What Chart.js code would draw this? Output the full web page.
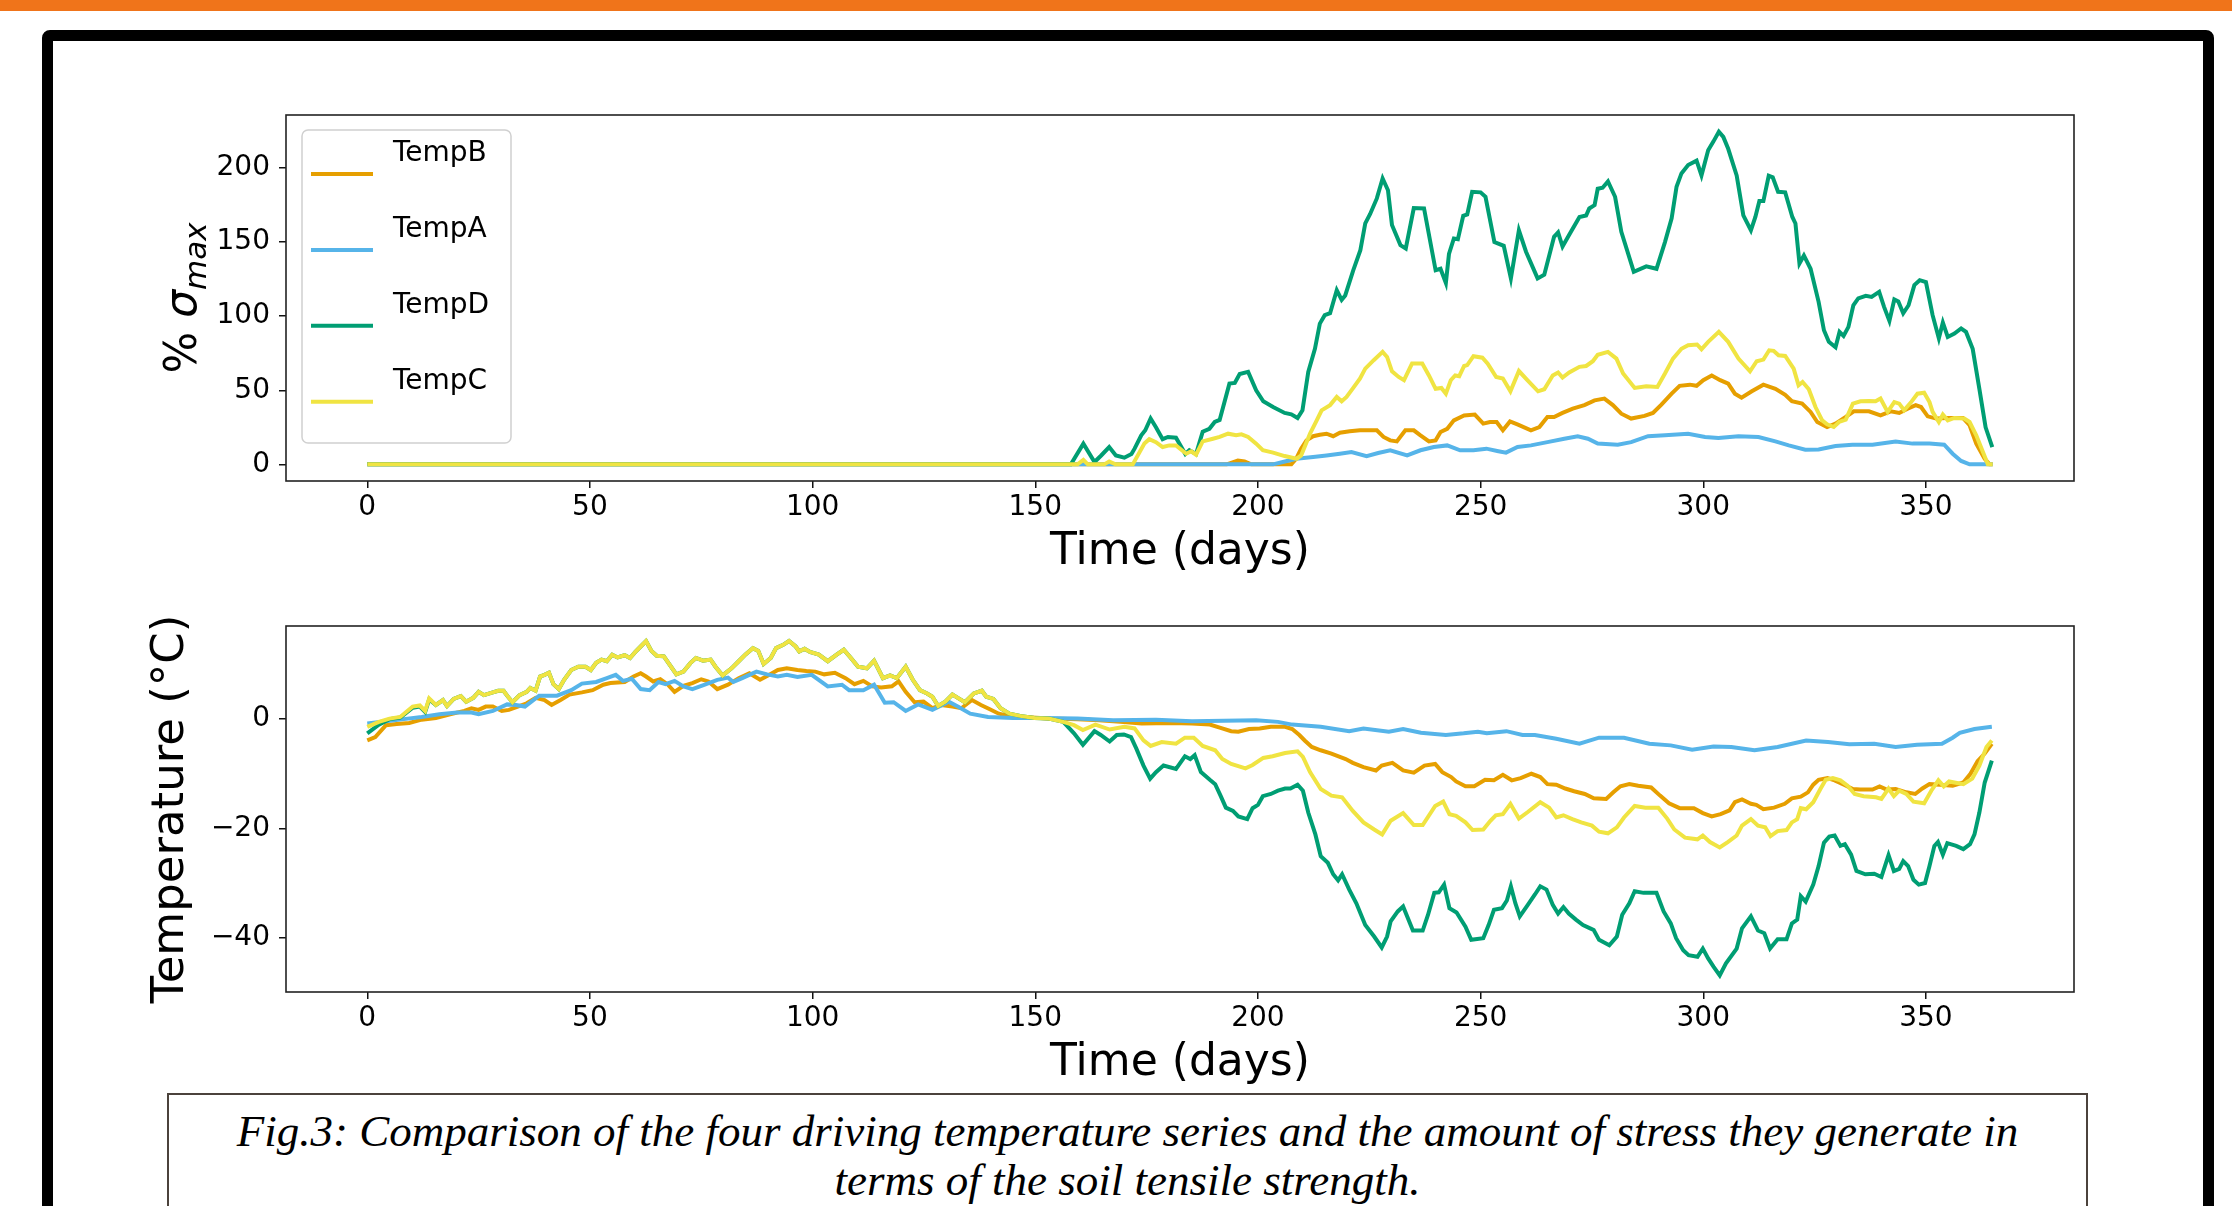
<!DOCTYPE html>
<html lang="en">
<head>
<meta charset="UTF-8">
<title>Fig.3 driving temperature series</title>
<script src="https://cdn.jsdelivr.net/npm/chart.js"></script>
<style>
    body {
        margin: 0;
        width: 2232px;
        height: 1206px;
        overflow: hidden;
        position: relative;
        background: #fff;
        font-family: "DejaVu Sans", sans-serif;
    }
    .topbar { position: absolute; left: 0; top: 0; width: 2232px; height: 11px; background: #f0741a; }
    .frame {
        position: absolute; left: 42px; top: 30px;
        width: 2150px; height: 1300px;
        border: 11px solid #000; border-radius: 8px;
    }
    #stressChart { position: absolute; left: 100px; top: 89px; }
    #tempChart { position: absolute; left: 100px; top: 600px; }
    .caption {
        position: absolute; left: 167px; top: 1093px;
        width: 1921px; height: 200px; box-sizing: border-box;
        border: 2px solid #4b423c; background: #fff;
        padding-top: 12px;
        font-family: "Liberation Serif", serif; font-style: italic;
        font-size: 45px; line-height: 49px; text-align: center; color: #000;
        white-space: nowrap;
    }
</style>
</head>
<body>
<div class="topbar"></div>
<div class="frame"></div>
<canvas id="stressChart" width="2000" height="491"></canvas>
<canvas id="tempChart" width="2000" height="491"></canvas>
<div class="caption">Fig.3: Comparison of the four driving temperature series and the amount of stress they generate in<br>terms of the soil tensile strength.</div>

<script>
// series order as in the legend
const seriesNames = ['TempB', 'TempA', 'TempD', 'TempC'];
const seriesColors = ['#E69F00', '#56B4E9', '#009E73', '#F0E442'];
const drawOrder = [3, 2, 1, 0];   // TempC on top

const xTicks = [0, 50, 100, 150, 200, 250, 300, 350];
const stressTicks = [0, 50, 100, 150, 200];
const tempTicks = [-40, -20, 0];

// % sigma_max, [day, value]
const stressB = [[0,0],[193,0],[195.5,2.5],[197,2],[198.5,0],[207.5,0],[208.6,3.8],[209.7,10.6],[210.9,16.2],[212.4,19],[213.9,20],[215.4,20.7],[216.9,19],[218.4,21.4],[220.6,22.3],[222.9,23],[226.7,23],[228.2,18.5],[229.7,16.2],[231.2,15.5],[233.1,23],[235,23],[236.5,19.6],[238.4,15.5],[239.9,16.2],[241,21.8],[242.5,24],[244,29.7],[246.3,33],[248.7,33.6],[250.6,27.5],[252.1,28.6],[253.6,28.6],[255,23],[256.6,29],[258.4,26.8],[261.3,23],[263.2,25.2],[265,32],[266.5,32],[268.4,34.7],[270.7,37.6],[273.3,40],[275.6,43.2],[277.8,44.4],[279.7,40],[281.6,34.2],[283.8,30.9],[286.8,32.7],[288.7,34.7],[290.6,40.3],[292.9,47.7],[294.7,53],[297,53.8],[298.5,53],[300,56.8],[301.9,60],[303.8,56.8],[305.6,54.5],[307.1,47.7],[308.6,45],[310.9,49.3],[313.5,53.8],[316.2,51],[318.4,47],[319.9,42.6],[322.2,41],[324.1,35.4],[325.6,28.6],[327.8,25.2],[329.7,27.5],[332,32],[333.8,35.8],[337.2,35.8],[339.8,33],[342.1,35.8],[344,34.7],[345.9,37.6],[347.7,40],[348.9,38.7],[350.4,32.4],[352.3,30.9],[354.9,31.3],[358.3,31.3],[359.8,26.4],[361.3,14],[363.2,3.8],[364.3,0],[365,0]];
const stressA = [[0,0],[203.4,0],[205.6,1.6],[208.6,3.8],[212.4,5],[215.4,6],[218.4,7.2],[221,8.3],[224.4,5.6],[227,7.7],[229.7,9.5],[233.5,6],[236.5,9.5],[239.5,11.7],[242.5,12.8],[245.4,9.5],[248.4,9.5],[251.3,10.6],[254,8.9],[255.7,7.9],[258.3,11.7],[261.3,12.8],[265,15],[268.8,17.3],[271.8,19],[274.1,17.3],[276.3,14],[280.8,13.3],[283.8,15],[287.6,19],[291.4,19.6],[296.6,20.7],[300.4,18.5],[303.4,17.8],[307.9,19],[312.4,18.5],[316.2,15.5],[319.2,12.8],[322.9,9.9],[325.9,10.1],[329.7,12.4],[333.5,13.3],[338,13.3],[343.2,15.5],[347,14],[350.8,14],[354.1,13.3],[356,7.2],[357.9,2.3],[359.8,0],[365,0]];
const stressD = [[0,0],[158,0],[160.8,14],[163.3,1.6],[164.8,6],[166.6,11.7],[168.1,6],[170,4.5],[171.6,7],[172.3,10.6],[173.8,19.6],[174.7,23],[175.9,31],[177.1,25],[178.6,17],[179.8,18.5],[181.6,18],[183.7,7],[184.6,9.5],[186.1,7],[187.6,22],[189.1,24],[190.3,28.6],[191.4,30],[193.6,54.5],[194.8,55],[195.9,61],[197.8,62.4],[199.6,50],[201.2,42.6],[203.4,38.7],[206,34.7],[207.5,33.8],[208.9,31.3],[210,36.5],[211.3,62.4],[212.8,78],[213.9,95],[215,100.7],[216.2,102],[217.7,117.6],[218.8,111],[219.6,114],[221.4,131],[223,144.6],[224.1,162.6],[225.2,169],[226.7,179.5],[228,193],[229.2,185],[230.1,161.5],[232,148],[233.2,145.7],[235,173],[237.3,172.7],[239.9,131],[241,132],[242.2,122.5],[242.9,142],[244,152.5],[244.9,152],[246.1,167.8],[247,168.7],[248.1,184],[250,183.6],[251.1,180.6],[253.1,150],[255.2,147.5],[256.8,125.5],[258.6,158],[260.2,143.5],[262.8,125.5],[264.3,128],[266.5,153.6],[267.4,156.5],[268.4,147],[269.9,155],[272.2,167],[273.7,168],[274.4,172.7],[275.6,175],[276.3,186],[277.4,186.7],[278.6,191],[280.2,180.6],[281.6,157],[284.4,130],[287.2,133.6],[289.5,132],[291.4,150],[292.9,166],[294,187.4],[295.1,196.4],[296.6,202],[298.5,205],[299.6,195],[301.1,212],[302.3,218],[303.5,224.5],[304.5,221],[305.6,213],[307.5,195],[309,168],[310.7,158],[311.7,167],[312.6,177.7],[313.5,177.7],[314.7,194.8],[315.6,193.7],[316.8,184],[318.4,183.6],[320,167],[320.7,162.6],[321.6,135.6],[322.6,141],[324.1,132],[325.9,109.7],[327.1,90.5],[328.2,82.7],[329.7,79],[330.6,89.4],[331.5,86.7],[332.6,92.8],[333.7,107.4],[334.8,112],[336.5,113.7],[337.8,113],[339.5,116.4],[340.6,106.3],[341.8,96.8],[342.9,111.3],[343.8,110],[344.9,102],[346.1,107.4],[347.4,121],[348.6,124.3],[350,123],[351.5,100.7],[352.9,85],[353.8,95.7],[354.9,86],[356.4,88.3],[357.9,91.7],[359,89.4],[360.5,78],[362,51],[363.4,25],[364.9,11.7]];
const stressC = [[0,0],[159.5,0],[160.8,3],[161.8,0],[165.5,0],[166.6,2],[168,0],[171.9,0],[174.5,14],[175.6,17],[177.1,15],[178.6,11.7],[180.1,12.8],[181.6,12.8],[183.9,7.2],[185,8.8],[186.1,6.5],[187.6,15.5],[189.9,17.3],[191.4,18.5],[193.3,20.7],[195.1,19.6],[196.3,20.3],[197.8,18.5],[199.6,14],[201.1,9.5],[203.4,7.9],[206,5.6],[208.7,3.8],[209.7,6],[211.7,20.7],[213.2,29.7],[214.3,36.5],[216.2,40],[217.7,45.5],[218.8,42.6],[219.9,45.5],[221.4,51.6],[222.9,57.9],[224.1,64.6],[226,70.3],[228,75.9],[229,72.5],[230.1,62.8],[231.6,59],[232.8,56.8],[234.6,68],[236.9,68],[238.4,60],[239.9,51],[241.2,51.6],[242.2,47.7],[243.3,56.8],[244.3,60],[245.2,59.5],[246.3,66.4],[247,67],[248.4,73],[250.4,72],[251.6,68],[253.5,59],[255,57.9],[256.7,49.3],[258.6,63],[260.5,56.8],[262.9,49.3],[264.3,50.7],[266.2,60],[267.4,62],[268.4,58.6],[269.9,62],[272.2,65.8],[273.7,66.4],[275.2,69.6],[276.3,74],[278.6,75.9],[280.5,71.4],[282,61.3],[284.6,51.6],[287.2,52.7],[289.7,52.3],[291.4,61.3],[293.2,71.4],[295.1,78],[296.6,80.4],[298.6,80.9],[299.6,77.7],[301.1,82.7],[303.5,89.4],[305.6,82.7],[307.9,71.4],[310.5,62.8],[312,69.6],[313.5,70.7],[314.8,77],[315.8,76.6],[316.9,73.6],[318.4,73.2],[320.3,64.6],[321.4,53.4],[322.3,55.6],[323.7,50.7],[325.2,38.7],[326.7,29.7],[327.8,27],[329.3,25.2],[330.5,28.6],[332,30.2],[333.6,41],[335.3,42.6],[337.2,42.8],[338.7,42.6],[339.8,44.4],[341.4,35.4],[342.9,42],[344,41],[345.1,36.5],[346.6,41.7],[348.1,47.7],[349.6,48.4],[350.8,42],[351.5,35.4],[352.9,28.6],[353.8,33.6],[354.9,29.7],[356.4,31.3],[358.6,30.9],[359.8,28.6],[361.3,19.6],[362.8,8.3],[363.9,0],[365,0]];

// temperature (deg C), [day, value]
const tempB = [[0,-3.9],[1.8,-3.3],[4.2,-1.1],[6.6,-0.9],[9.4,-0.7],[12.2,-0.1],[15.4,0.2],[18.6,0.9],[21.8,1.5],[23.4,2],[25,1.7],[26.6,2.3],[28.2,2.3],[30.2,1.5],[31.8,1.7],[33.8,2.3],[35.8,2.9],[37.8,3.9],[39.8,3.5],[41.4,2.6],[43.4,3.5],[45.4,4.5],[48.2,4.9],[50.6,5.3],[53,6.3],[54.6,6.6],[57.8,6.8],[59.8,7.8],[61.4,8.4],[62.6,7.8],[64.2,6.9],[65.8,7.3],[67.4,6.4],[69,5],[71,6.1],[73,6.6],[75,7.3],[76.6,6.9],[78.6,5.5],[81,6.3],[83.4,7.5],[85.8,8.4],[88.2,7.2],[90.2,8.1],[92.2,9],[94.2,9.3],[96.6,9],[98.6,8.8],[100.6,8.7],[102.6,8.2],[105,8.5],[107.4,7.5],[109.4,6.4],[111.4,7],[113.4,6],[115.4,5.8],[117.8,6],[119.3,6.9],[120.9,5],[122.9,3.1],[124.9,3.2],[126.9,2],[128.9,2.6],[131.4,2.3],[133.4,2],[135.8,3.5],[137.8,2.6],[139.8,1.8],[141.8,1],[144.2,0.6],[147.4,0.4],[153,0.1],[159.5,0],[164.3,-0.2],[169.1,-0.5],[173.9,-0.8],[180.4,-0.7],[185.2,-0.8],[189.2,-1],[191.6,-1.6],[194,-2.2],[195.6,-2.3],[198,-1.8],[200.4,-1.7],[202.9,-1.4],[206.1,-1.4],[207.7,-1.8],[209.3,-2.9],[210.5,-3.9],[212.1,-5.1],[214.1,-5.7],[216.5,-6.3],[218.1,-6.8],[219.7,-7.3],[221.3,-8],[223.7,-8.8],[226.5,-9.4],[227.8,-8.5],[230.2,-8],[232.6,-9.4],[235,-9.8],[237.4,-8.5],[239.8,-8.2],[241.4,-9.7],[243.4,-10.6],[244.5,-11.4],[246.6,-12.3],[248.6,-12.3],[251,-11.1],[253,-11.2],[255,-10.2],[257,-11.2],[259,-10.8],[261.4,-10],[263.4,-10.6],[265,-11.9],[267,-12],[269,-12.7],[271,-13.2],[273.4,-13.7],[275.4,-14.5],[278.2,-14.6],[279.8,-13.4],[281.4,-12.3],[283.4,-11.9],[285.4,-12.2],[288.3,-12.5],[290.3,-14],[292.3,-15.4],[294.7,-16.3],[297.9,-16.3],[299.9,-17.2],[301.9,-17.8],[303.9,-17.4],[305.9,-16.7],[307.1,-15.2],[308.7,-14.7],[310.7,-15.5],[311.9,-15.7],[313.5,-16.5],[315.9,-16.2],[318.3,-15.5],[319.9,-14.5],[321.9,-14.2],[323.5,-13.4],[324.7,-12],[325.9,-11.1],[327.9,-10.8],[329.5,-11.2],[331.6,-12],[333.6,-12.8],[335.2,-12.9],[338,-12.9],[339.6,-12.3],[341.2,-12.9],[343.2,-12.8],[345.6,-13.4],[347.6,-13.7],[349.2,-12.7],[350.8,-11.9],[353.2,-12],[356,-12.2],[358.4,-11.6],[360,-10],[361.6,-7.7],[363.2,-6.3],[364.8,-4.5]];
const tempA = [[0,-0.8],[4.2,-0.4],[8.2,0],[12.2,0.4],[16.2,0.9],[20.2,1.2],[23.4,1.2],[25,0.9],[28.2,1.5],[31.4,2.7],[33.4,2.6],[35.4,2.3],[38.6,4.3],[42.6,4.3],[45.8,5.3],[48.2,6.5],[51.4,6.8],[53.8,7.5],[55.8,8.1],[57.4,7],[59.4,7.4],[61.4,5.5],[63.4,5.3],[65.4,6.8],[67,6.4],[69,7],[71,6],[73,5.5],[75.8,6.3],[78.6,7.2],[81,7.6],[82.2,6.8],[84.2,7.5],[87.4,8.7],[89.8,8.2],[92.2,7.8],[94.2,8.1],[96.6,7.7],[99.8,8.1],[103.4,6],[106.6,6.3],[108.2,5.3],[111.4,5.3],[113.8,6.3],[116.2,3],[118.2,3.1],[120.9,1.5],[123.7,2.7],[126.9,1.7],[130.6,3.2],[132.6,2.3],[135.4,1],[139.4,0.4],[145,0.2],[151.4,0.2],[159.5,0.1],[167.5,-0.2],[177.1,-0.1],[185.2,-0.4],[199.6,-0.2],[204.5,-0.5],[207.7,-1],[214.1,-1.4],[220.5,-2.2],[223.7,-1.7],[229.4,-2.3],[232.6,-1.8],[236.6,-2.5],[242.2,-2.9],[246.2,-2.6],[249.4,-2.3],[251.4,-2.6],[255.8,-2.2],[259.4,-2.9],[262.2,-2.9],[267,-3.6],[272.2,-4.5],[276.6,-3.4],[282.2,-3.4],[287.9,-4.5],[292.7,-4.8],[297.5,-5.6],[302.3,-5],[306.3,-5.1],[311.5,-5.7],[316.7,-5.1],[323.1,-3.9],[328,-4.2],[332.8,-4.6],[338.4,-4.5],[343.2,-5.1],[348,-4.7],[353.6,-4.5],[356,-3.4],[357.6,-2.5],[360.9,-1.8],[364.8,-1.4]];
const tempD = [[0,-2.6],[2.6,-1],[5,0],[7.4,0.3],[9,1.3],[10.2,2.1],[11.8,2.3],[13,1.3],[13.9,3.6],[15.4,2.6],[17,3.5],[17.9,2.4],[19.4,3.7],[21,4.2],[22.2,3.2],[23.8,3.9],[25,5],[26.2,4.4],[28.2,4.9],[29.4,5.2],[30.6,5.2],[31.4,4.3],[32.6,3.1],[34.2,4.4],[35.8,5],[36.6,5.7],[37.8,5.2],[38.8,7.8],[39.8,8.1],[40.8,8.5],[41.8,6.4],[43,5.5],[44.2,7.2],[45.8,9],[47.4,9.6],[49,9.6],[50.2,9],[51.4,10.3],[52.6,10.9],[53.8,10.6],[55,11.8],[56.2,11.3],[57.8,11.7],[59,11.2],[60.2,12.3],[61.4,13.3],[62.6,14.3],[63.8,12.5],[65,11.6],[66.6,11.5],[68.2,9.6],[69.4,8.2],[71,8.7],[72.6,10.3],[73.8,11.2],[75.4,10.7],[77.1,10.9],[78.2,9.6],[79.8,8],[81.8,9.3],[83.4,10.6],[85,11.9],[86.6,13],[87.8,12.5],[89,10.1],[90.6,11.2],[91.8,13],[93.4,13.6],[94.7,14.3],[96.2,13.3],[97,12.4],[98.2,12.9],[99.4,12.3],[101.4,11.8],[103.4,10.6],[105.4,11.8],[107,12.7],[108.6,11.2],[110.2,9.6],[112.2,9.3],[113.8,10.7],[115.8,7.5],[117.4,8],[118.9,7.5],[120.9,9.6],[122.5,7.2],[124.1,5.3],[125.7,4.7],[126.9,4.1],[128.2,2.4],[129.8,3.2],[131.4,4.5],[132.6,3.9],[134.2,3.1],[136.2,4.7],[138,5.2],[139,4.1],[140.6,3.7],[142.2,2],[144.2,1],[146.6,0.6],[149.8,0.2],[153,0.1],[156.3,-0.5],[158.7,-2.6],[160.7,-4.7],[163.3,-2.2],[164.7,-2.9],[166.7,-4.1],[168.3,-2.9],[169.9,-2.8],[171.5,-3.3],[172.7,-5.4],[174.3,-8.5],[175.8,-10.9],[177.1,-9.7],[178.8,-8.5],[181.6,-9.1],[183.6,-6.8],[184.8,-7.3],[185.8,-6.6],[187.2,-9.7],[189.2,-11.1],[190.4,-11.9],[191.6,-14],[192.8,-16.2],[194.4,-16.8],[195.6,-17.8],[197.6,-18.3],[198.8,-16.3],[200,-15.7],[201.1,-14.1],[202.9,-13.7],[204.5,-13.1],[206.1,-12.7],[207.3,-12.7],[208.9,-12],[210.1,-13.1],[211.3,-17.1],[212.9,-21.1],[214.1,-25.1],[215.7,-26.3],[216.9,-28.4],[218,-29.5],[218.9,-28.4],[220.5,-31.2],[222.1,-33.7],[224.1,-37.7],[226.1,-39.8],[227.8,-41.8],[229,-39.8],[229.8,-37],[231.4,-35.2],[232.6,-34.3],[234.8,-38.7],[237,-38.7],[238.2,-35.8],[239.6,-31.8],[240.6,-31.7],[241.8,-30.3],[243,-34.6],[244.6,-35.4],[246.6,-38],[247.9,-40.4],[250.6,-40.1],[251.8,-37.7],[253,-34.9],[254.8,-34.6],[255.9,-33.2],[256.8,-30.6],[257.8,-33.7],[258.8,-36.1],[260.6,-34],[262.2,-32.1],[263.4,-30.6],[264.8,-31.2],[266.2,-34],[267.4,-35.6],[268.6,-34.4],[269.8,-35.6],[271.4,-36.7],[273,-37.7],[274.6,-38.3],[275.4,-38.6],[276.6,-40.4],[278.9,-41.4],[280.6,-39.8],[281.8,-35.8],[283.4,-33.7],[284.6,-31.5],[286.6,-31.8],[289.5,-31.8],[291.1,-35.2],[292.7,-37.4],[293.9,-40.1],[295.5,-42.3],[296.7,-43.2],[298.7,-43.5],[299.9,-42],[301.1,-43.8],[302.3,-45.3],[303.7,-46.9],[305.1,-44.7],[307.5,-42],[308.7,-38.3],[310.7,-36.1],[312.3,-38.7],[313.7,-39.2],[315,-42],[316.7,-40.3],[318.7,-40.3],[319.9,-37.4],[321.1,-36.7],[321.9,-32.4],[323,-33.4],[324.7,-30.3],[325.9,-26.9],[327.1,-22.6],[328.3,-21.5],[329.5,-21.3],[330.8,-23.2],[331.8,-22.9],[333.2,-24.8],[334.4,-27.8],[336.4,-28.4],[338.4,-28.3],[340,-28.9],[341.6,-24.9],[342.8,-27.8],[344,-27.4],[344.9,-26],[346,-26.9],[347.2,-29.4],[348.4,-30.3],[349.8,-30],[350.8,-26.9],[351.9,-23.2],[352.7,-22.5],[353.8,-24.8],[354.8,-22.7],[356.8,-23.2],[358.4,-23.8],[359.9,-22.9],[360.9,-21.1],[362,-17.1],[363.2,-11.6],[364.8,-7.6]];
const tempC = [[0,-1.4],[2.6,-0.5],[5,0.1],[7.4,0.4],[9,1.5],[10.2,2.3],[11.8,2.5],[13,1.5],[13.9,3.8],[15.4,2.6],[17,3.5],[17.9,2.4],[19.4,3.7],[21,4.2],[22.2,3.2],[23.8,3.9],[25,5],[26.2,4.4],[28.2,4.9],[29.4,5.2],[30.6,5.2],[31.4,4.3],[32.6,3.1],[34.2,4.4],[35.8,5],[36.6,5.7],[37.8,5.2],[38.8,7.8],[39.8,8.1],[40.8,8.5],[41.8,6.4],[43,5.5],[44.2,7.2],[45.8,9],[47.4,9.6],[49,9.6],[50.2,9],[51.4,10.3],[52.6,10.9],[53.8,10.6],[55,11.8],[56.2,11.3],[57.8,11.7],[59,11.2],[60.2,12.3],[61.4,13.3],[62.6,14.3],[63.8,12.5],[65,11.6],[66.6,11.5],[68.2,9.6],[69.4,8.2],[71,8.7],[72.6,10.3],[73.8,11.2],[75.4,10.7],[77.1,10.9],[78.2,9.6],[79.8,8],[81.8,9.3],[83.4,10.6],[85,11.9],[86.6,13],[87.8,12.5],[89,10.1],[90.6,11.2],[91.8,13],[93.4,13.6],[94.7,14.3],[96.2,13.3],[97,12.4],[98.2,12.9],[99.4,12.3],[101.4,11.8],[103.4,10.6],[105.4,11.8],[107,12.7],[108.6,11.2],[110.2,9.6],[112.2,9.3],[113.8,10.7],[115.8,7.5],[117.4,8],[118.9,7.5],[120.9,9.6],[122.5,7.2],[124.1,5.3],[125.7,4.7],[126.9,4.1],[128.2,2.4],[129.8,3.2],[131.4,4.5],[132.6,3.9],[134.2,3.1],[136.2,4.7],[138,5.2],[139,4.1],[140.6,3.7],[142.2,2],[144.2,1],[146.6,0.6],[149.8,0.2],[153,0.1],[156.3,-0.5],[158.7,-1.1],[160.7,-2],[163.5,-1],[166.7,-1.9],[170,-1.4],[172.3,-1.7],[174.3,-3.9],[175.9,-4.9],[178.4,-4.2],[181.6,-4.5],[183.6,-3.4],[185.6,-3.4],[187.6,-4.9],[190.4,-5.7],[192,-7.3],[194,-8.2],[197.2,-9],[198.8,-8.4],[201.2,-7.1],[203.3,-6.8],[206.1,-6.2],[208.9,-5.9],[210.1,-6.9],[211.7,-9.7],[214.1,-12.8],[216.5,-14],[218.9,-14.3],[221.3,-16.8],[223.7,-18.9],[226.1,-20.2],[227.9,-21.1],[229.8,-18.6],[232.6,-17.2],[235,-19.4],[237,-19.4],[239.8,-15.9],[241.6,-15.1],[243,-17.4],[244.5,-17.7],[246.6,-18.9],[248.2,-20.3],[250.6,-20.2],[252.2,-18.6],[253.4,-17.6],[255,-17.4],[256.7,-15.5],[258.6,-18.2],[260.6,-17],[263.4,-15.2],[265.4,-16.2],[267,-18],[268.6,-17.6],[270.6,-18.3],[272.6,-18.9],[275,-19.5],[276.6,-20.6],[278.6,-20.9],[280.6,-19.8],[282.2,-18],[284.6,-15.9],[287,-16.2],[289.9,-16.2],[291.9,-18.2],[293.5,-20.2],[295.9,-21.7],[298.7,-22],[299.9,-21.3],[301.5,-22.5],[303.7,-23.5],[305.5,-22.5],[307.5,-21.3],[308.7,-19.5],[310.7,-18.3],[312.3,-19.5],[313.9,-19.8],[315.1,-21.4],[316.7,-20.5],[318.7,-20.3],[319.9,-18.9],[321.1,-18.3],[321.9,-16.3],[323.1,-16.5],[324.7,-15.2],[326.3,-12.8],[327.5,-11.1],[329.1,-10.8],[330.8,-11.2],[332.4,-12.2],[334,-13.7],[336,-14.1],[338.8,-14.3],[340,-14.6],[341.6,-12.7],[342.8,-14.1],[344,-13.1],[345.6,-13.7],[347.2,-15.1],[349.6,-15.4],[351.2,-13.1],[352.8,-11.2],[354,-12.3],[355.2,-11.4],[358.4,-11.9],[360.4,-10.9],[362,-8.5],[363.6,-5.1],[364.8,-3.9]];

const FONT = '"DejaVu Sans", sans-serif';
const LINE_W = 4;

function makeSets(list) {
    return list.map((pts, i) => ({
        label: seriesNames[i],
        data: pts.map(p => ({ x: p[0], y: p[1] })),
        borderColor: seriesColors[i],
        borderWidth: LINE_W,
        pointRadius: 0,
        tension: 0,
        fill: false,
        order: drawOrder[i]
    }));
}

function tickGrid() {
    return { drawOnChartArea: false, drawTicks: true, tickLength: 7, tickColor: '#111', lineWidth: 1.5 };
}

function minusLabel(v) {
    return v < 0 ? '\u2212' + Math.abs(v) : String(v);
}

function makeScales(yMin, yMax, yTicks, yTitle) {
    return {
        x: {
            type: 'linear', min: -18.25, max: 383.25,
            afterBuildTicks: s => { s.ticks = xTicks.map(v => ({ value: v })); },
            afterFit: s => { s.height = 99; },
            grid: tickGrid(),
            border: { display: false },
            ticks: { color: '#000', font: { family: FONT, size: 28 }, padding: 3, maxRotation: 0, autoSkip: false },
            title: { display: true, text: 'Time (days)', color: '#000',
                     font: { family: FONT, size: 44, lineHeight: 1.2 }, padding: { top: 0, bottom: 1 } }
        },
        y: {
            type: 'linear', min: yMin, max: yMax,
            afterBuildTicks: s => { s.ticks = yTicks.map(v => ({ value: v })); },
            afterFit: s => { s.width = 186; },
            grid: tickGrid(),
            border: { display: false },
            ticks: { color: '#000', font: { family: FONT, size: 28 }, padding: 9, autoSkip: false, callback: minusLabel },
            title: yTitle
                ? { display: true, text: yTitle, color: '#000', font: { family: FONT, size: 45, lineHeight: 1.2 }, padding: { top: 44, bottom: 0 } }
                : { display: false }
        }
    };
}

// matplotlib style box round the axes
const boxPlugin = {
    id: 'axesBox',
    afterDatasetsDraw(chart) {
        const { ctx, chartArea: a } = chart;
        ctx.save();
        ctx.strokeStyle = '#222';
        ctx.lineWidth = 1.6;
        ctx.strokeRect(a.left, a.top, a.right - a.left, a.bottom - a.top);
        ctx.restore();
    }
};

// legend in the upper left, label above its line sample
const cornerLegend = {
    id: 'cornerLegend',
    afterDraw(chart, args, opts) {
        if (!opts.show) return;
        const { ctx, chartArea: a } = chart;
        const bx = a.left + 16, by = a.top + 15, bw = 209, bh = 313, r = 6;
        ctx.save();
        ctx.beginPath();
        ctx.moveTo(bx + r, by);
        ctx.arcTo(bx + bw, by, bx + bw, by + bh, r);
        ctx.arcTo(bx + bw, by + bh, bx, by + bh, r);
        ctx.arcTo(bx, by + bh, bx, by, r);
        ctx.arcTo(bx, by, bx + bw, by, r);
        ctx.closePath();
        ctx.fillStyle = 'rgba(255,255,255,0.8)';
        ctx.fill();
        ctx.strokeStyle = '#d0d0d0';
        ctx.lineWidth = 1.5;
        ctx.stroke();
        chart.data.datasets.forEach((ds, i) => {
            const ly = a.top + 59 + i * 75.9;
            ctx.strokeStyle = ds.borderColor;
            ctx.lineWidth = LINE_W;
            ctx.beginPath();
            ctx.moveTo(a.left + 25, ly);
            ctx.lineTo(a.left + 87, ly);
            ctx.stroke();
            ctx.fillStyle = '#000';
            ctx.font = '28px ' + FONT;
            ctx.textBaseline = 'middle';
            ctx.textAlign = 'left';
            ctx.fillText(ds.label, a.left + 107, ly - 20);
        });
        ctx.restore();
    }
};

// "% sigma_max" axis label with italic subscript
const sigmaTitle = {
    id: 'sigmaTitle',
    afterDraw(chart, args, opts) {
        if (!opts.show) return;
        const { ctx, chartArea: a } = chart;
        const big = '44px ' + FONT, ital = 'italic 44px ' + FONT, sub = 'italic 31px ' + FONT;
        ctx.save();
        ctx.translate(opts.x, (a.top + a.bottom) / 2);
        ctx.rotate(-Math.PI / 2);
        ctx.font = big; const w1 = ctx.measureText('% ').width;
        ctx.font = ital; const w2 = ctx.measureText('\u03c3').width;
        ctx.font = sub; const w3 = ctx.measureText('max').width;
        let x0 = -(w1 + w2 + w3) / 2;
        const base = 15;
        ctx.fillStyle = '#000';
        ctx.textBaseline = 'alphabetic';
        ctx.textAlign = 'left';
        ctx.font = big; ctx.fillText('% ', x0, base); x0 += w1;
        ctx.font = ital; ctx.fillText('\u03c3', x0, base); x0 += w2;
        ctx.font = sub; ctx.fillText('max', x0, base + 10);
        ctx.restore();
    }
};

function baseOptions(scales, extra) {
    return {
        responsive: false,
        animation: false,
        events: [],
        devicePixelRatio: 1,
        // top padding must cover the y tick label overhang (about 26px)
        layout: { padding: { left: 0, top: 26, right: 26, bottom: 0 } },
        scales: scales,
        plugins: Object.assign({ legend: { display: false }, tooltip: { enabled: false } }, extra)
    };
}

new Chart(document.getElementById('stressChart'), {
    type: 'line',
    data: { datasets: makeSets([stressB, stressA, stressD, stressC]) },
    options: baseOptions(makeScales(-11.23, 235.8, stressTicks, null),
        { cornerLegend: { show: true }, sigmaTitle: { show: true, x: 81 } }),
    plugins: [boxPlugin, cornerLegend, sigmaTitle]
});

new Chart(document.getElementById('tempChart'), {
    type: 'line',
    data: { datasets: makeSets([tempB, tempA, tempD, tempC]) },
    options: baseOptions(makeScales(-49.95, 17.05, tempTicks, 'Temperature (\u00b0C)'),
        { cornerLegend: { show: false }, sigmaTitle: { show: false } }),
    plugins: [boxPlugin, cornerLegend, sigmaTitle]
});
</script>
</body>
</html>
